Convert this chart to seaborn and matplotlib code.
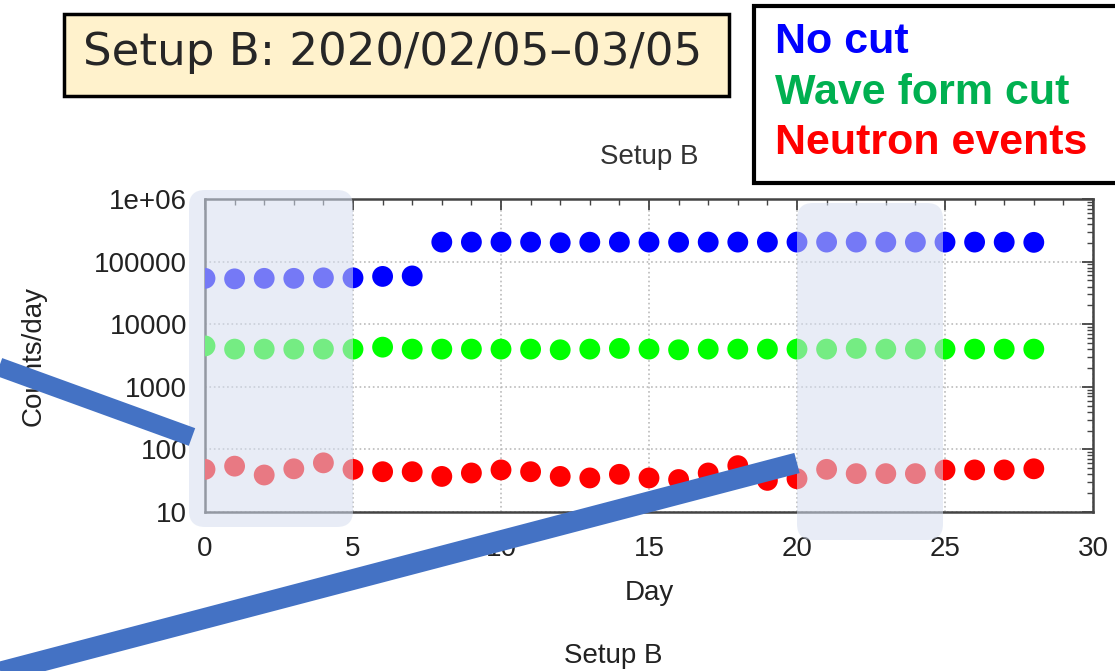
import matplotlib
matplotlib.use('Agg')
import matplotlib.pyplot as plt
import matplotlib.ticker as mticker
from matplotlib.patches import FancyBboxPatch, Rectangle
from matplotlib.lines import Line2D
import seaborn as sns
import pandas as pd

# data
days = list(range(29))
no_cut = [54000, 53000, 54000, 54000, 55000, 55000, 58000, 59000,
          205000, 205000, 205000, 205000, 200000, 204000, 205000, 205000,
          204000, 205000, 205000, 205000, 205000, 205000, 205000, 205000,
          205000, 205000, 205000, 205000, 203000]
wave_cut = [4500, 4000, 4000, 4000, 4000, 4000, 4300, 4000,
            4000, 4000, 4000, 4000, 3900, 4000, 4100, 4000,
            3900, 4000, 4000, 4000, 4000, 4000, 4100, 4000,
            4000, 4000, 4000, 4000, 4000]
neutron = [48, 54, 39, 49, 61, 48, 44, 44, 37, 42, 47, 44, 37, 35, 40, 35,
           33, 42, 55, 32, 34, 48, 41, 41, 41, 47, 47, 47, 49]
series = ['No cut', 'Wave form cut', 'Neutron events']
colors = ['#0000FF', '#00FF00', '#FF0000']
legend_colors = ['#0000FF', '#00B050', '#FF0000']
ytick_vals = [10, 100, 1000, 10000, 100000, 1000000]
ytick_labels = ['10', '100', '1000', '10000', '100000', '1e+06']

df = pd.DataFrame({
    'Day': days * 3,
    'Counts': no_cut + wave_cut + neutron,
    'Series': [s for s in series for _ in days],
})

sns.set_style('white')
plt.rcParams['font.family'] = ['Liberation Sans', 'DejaVu Sans']

W, H = 11.15, 6.71
fig = plt.figure(figsize=(W, H), dpi=100)
ax = fig.add_axes([205 / 1115, 1 - 512 / 671, 888 / 1115, 313 / 671])

sns.scatterplot(data=df, x='Day', y='Counts', hue='Series', hue_order=series,
                palette=colors, s=225, linewidth=0, legend=False, ax=ax, zorder=3)
ax.set_yscale('log')
ax.set_xlim(0, 30)
ax.set_ylim(10, 1e6)
ax.set_yticks(ytick_vals)
ax.set_yticklabels(ytick_labels)
ax.yaxis.set_minor_locator(mticker.LogLocator(subs=range(2, 10)))
ax.yaxis.set_minor_formatter(mticker.NullFormatter())
ax.xaxis.set_major_locator(mticker.MultipleLocator(5))
ax.xaxis.set_minor_locator(mticker.MultipleLocator(1))
ax.grid(True, which='major', linestyle=':', color='#bbbbbb', linewidth=1.2)
ax.tick_params(which='both', direction='in', top=True, right=True,
               colors='#444444', labelcolor='#222222', labelsize=20)
ax.tick_params(which='major', length=8, width=1.3)
ax.tick_params(which='minor', length=4, width=1)
ax.tick_params(axis='x', pad=17)
ax.tick_params(axis='y', pad=13)
for sp in ax.spines.values():
    sp.set_color('#444444')
    sp.set_linewidth(1.8)
ax.set_xlabel('Day', fontsize=20, color='#222222', labelpad=13)
ax.set_ylabel('Counts/day', fontsize=20, color='#222222', labelpad=34)
ax.set_title('Setup B', fontsize=20, color='#333333', pad=25, x=0.5)


def px(x, y):
    return x / 100, (671 - y) / 100


# shaded highlight boxes (pixel layout)
for x0, y0, x1, y1 in [(189, 190, 353, 527), (797, 203, 943, 540)]:
    bx, by = px(x0, y1)
    fig.add_artist(FancyBboxPatch((bx, by), (x1 - x0) / 100, (y1 - y0) / 100,
                                  boxstyle='round,pad=0,rounding_size=0.16',
                                  transform=fig.dpi_scale_trans,
                                  facecolor='#D6DEF0', edgecolor='none',
                                  alpha=0.55, zorder=5))

# thick pointer lines
for (xa, ya), (xb, yb), lw in [((-20, 360), (192, 437), 13.5),
                               ((-30, 680), (797, 463), 15)]:
    p1, p2 = px(xa, ya), px(xb, yb)
    fig.add_artist(Line2D([p1[0], p2[0]], [p1[1], p2[1]], color='#4472C4',
                          linewidth=lw, solid_capstyle='butt',
                          transform=fig.dpi_scale_trans, zorder=6))

# title box
bx, by = px(64, 96)
fig.add_artist(Rectangle((bx, by), (729 - 64) / 100, (96 - 14) / 100,
                         transform=fig.dpi_scale_trans, facecolor='#FFF2CC',
                         edgecolor='black', linewidth=2.5, zorder=7))
tx, ty = px(393, 53)
fig.text(tx / W, ty / H, 'Setup B: 2020/02/05\u201303/05', fontsize=32.5,
         family='DejaVu Sans', ha='center', va='center', zorder=8)

# legend box
bx, by = px(754, 183)
fig.add_artist(Rectangle((bx, by), (1125 - 754) / 100, (183 - 6) / 100,
                         transform=fig.dpi_scale_trans, facecolor='white',
                         edgecolor='black', linewidth=3, zorder=7))
for name, col, yy in zip(series, legend_colors, [42, 93, 143]):
    tx, ty = px(775, yy)
    fig.text(tx / W, ty / H, name, fontsize=31, fontweight='bold', color=col,
             ha='left', va='center', zorder=8)

# bottom caption
tx, ty = px(613, 656)
fig.text(tx / W, ty / H, 'Setup B', fontsize=20, color='#222222',
         ha='center', va='center')

fig.savefig('out.png', dpi=100)
